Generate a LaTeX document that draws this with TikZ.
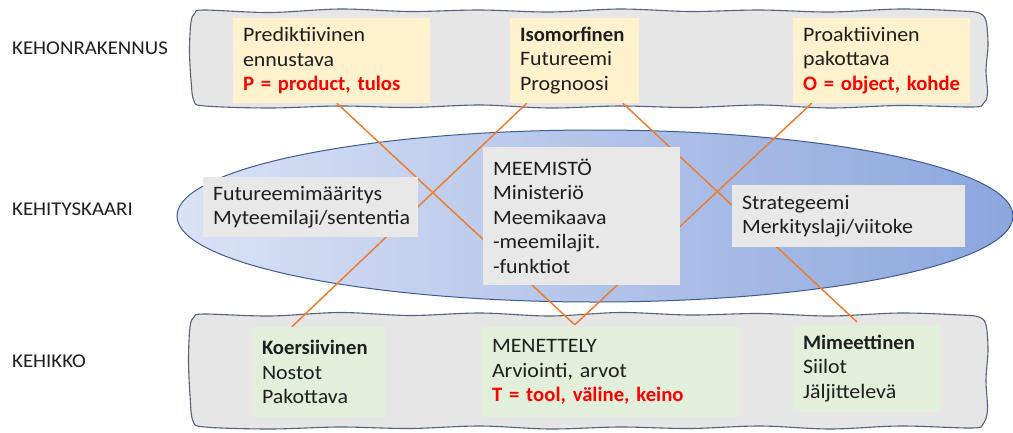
\documentclass[tikz,border=0pt]{standalone}
\usepackage{fontspec}
\setmainfont{Carlito}[FakeStretch=1.07, BoldFeatures={FakeStretch=1.01}]
\usetikzlibrary{calc,shapes.geometric}
\pgfdeclarelayer{bg}
\pgfdeclarelayer{mid}
\pgfsetlayers{bg,mid,main}
\definecolor{bandfill}{HTML}{E7E6E6}
\definecolor{bandline}{HTML}{55627E}
\definecolor{yel}{HTML}{FFF2CC}
\definecolor{grn}{HTML}{E2EFDA}
\definecolor{gry}{HTML}{E8E8E8}
\definecolor{org}{HTML}{ED7D31}
\definecolor{ellL}{HTML}{DAE2F5}
\definecolor{ellR}{HTML}{8CA6DE}
\definecolor{ellB}{HTML}{3F5B94}
\definecolor{txt}{HTML}{1E1E1E}
\definecolor{redt}{HTML}{FF0000}
\newcommand{\redline}[1]{\mbox{\textbf{\color{redt}#1}}}
\newcommand{\boxfont}{\fontsize{20.5}{24.5}\selectfont\frenchspacing}
\tikzset{
  band/.style={fill=bandfill, draw=bandline, line width=1.1pt},
  box/.style={rectangle, inner xsep=10pt, inner ysep=0pt, align=left, text=txt,
    font=\boxfont},
  ybox/.style={box, fill=yel},
  gbox/.style={box, fill=grn},
  mbox/.style={box, fill=gry},
  link/.style={draw=org, line width=1.5pt},
  lab/.style={anchor=base west, text=txt, font=\fontsize{19.5}{22}\selectfont, inner sep=0pt}
}
\begin{document}
\begin{tikzpicture}[x=1pt,y=-1pt]
\useasboundingbox (0,0) rectangle (1013,432);
\begin{pgfonlayer}{bg}
% bands
\path[band] plot[smooth cycle, tension=0.55] coordinates {
  (204,10) (270,12.5) (340,9) (410,11.5) (480,10) (550,12) (620,9) (690,11.5)
  (760,10) (830,12) (900,9) (960,11) (979,13) (986,21)
  (988,45) (986,70) (987.5,94) (983,104) (972,107)
  (900,105.5) (830,108) (760,105) (690,107.5) (620,106) (550,108) (480,105)
  (410,107.5) (340,106) (270,108) (205,106) (194,101)
  (191,80) (189.5,50) (191,22) (195,13)};
\path[band] plot[smooth cycle, tension=0.55] coordinates {
  (204,314) (270,316) (340,312.5) (410,315.5) (480,313) (550,316) (620,312.5) (690,315)
  (760,313.5) (830,316) (900,313) (960,315) (979,317) (986,325)
  (988,350) (986,380) (987.5,410) (983,424) (972,428)
  (900,426) (830,429) (760,426) (690,428.5) (620,427) (550,429) (480,426)
  (410,428.5) (340,427) (270,429) (205,427) (193,421)
  (190,395) (188.5,360) (190,327) (194,317)};
% ellipse
\node[ellipse, minimum width=836pt, minimum height=172pt, inner sep=0pt,
  left color=ellL, right color=ellR, draw=ellB, line width=1pt] (arc) at (595,216) {};
\end{pgfonlayer}
% boxes
\node[ybox, text width=177pt, minimum height=85pt] (tl) at (331.5,60.5)
  {Prediktiivinen\\ennustava\\\redline{P = product, tulos}};
\node[ybox, text width=109pt, minimum height=85pt] (tm) at (574.5,60.5)
  {\mbox{\textbf{Isomorfinen}}\\Futureemi\\Prognoosi};
\node[ybox, text width=157pt, minimum height=85pt] (tr) at (881.5,60.5)
  {Proaktiivinen\\pakottava\\\redline{O = object, kohde}};
\node[mbox, text width=195pt, minimum height=60pt] (ml) at (310.5,207)
  {Futureemimääritys\\\mbox{Myteemilaji/sententia}};
\node[mbox, text width=177pt, minimum height=138pt] (mm) at (581.5,216)
  {MEEMISTÖ\\Ministeriö\\Meemikaava\\-meemilajit.\\-funktiot};
\node[mbox, text width=213pt, minimum height=62pt] (mr) at (848.5,216)
  {Strategeemi\\\mbox{Merkityslaji/viitoke}};
\node[gbox, text width=113pt, minimum height=90pt] (bl) at (318.5,372)
  {\mbox{\textbf{Koersiivinen}}\\Nostot\\Pakottava};
\node[gbox, text width=238pt, minimum height=90pt] (bm) at (611,372)
  {MENETTELY\\Arviointi, arvot\\\redline{T = tool, väline, keino}};
\node[gbox, text width=127pt, minimum height=87pt] (br) at (866.5,368.5)
  {\mbox{\textbf{Mimeettinen}}\\Siilot\\Jäljittelevä};
% links (behind boxes, above ellipse)
\begin{pgfonlayer}{mid}
\coordinate (v) at ($(bm.north west)+(93,-2)$);
\draw[link] ($(tl.south west)+(104,0)$) -- (v);
\draw[link] ($(tr.south west)+(19,0)$) -- (v);
\draw[link] ($(tm.south west)+(17,0)$) -- ($(bl.north west)+(40,0)$);
\draw[link] ($(tm.south west)+(113,0)$) -- ($(br.north west)+(64,-3)$);
\end{pgfonlayer}
% labels
\node[lab] (l1) at (12,54) {KEHONRAKENNUS};
\node[lab] (l2) at (12,215) {KEHITYSKAARI};
\node[lab] (l3) at (12,367) {KEHIKKO};
\end{tikzpicture}
\end{document}
